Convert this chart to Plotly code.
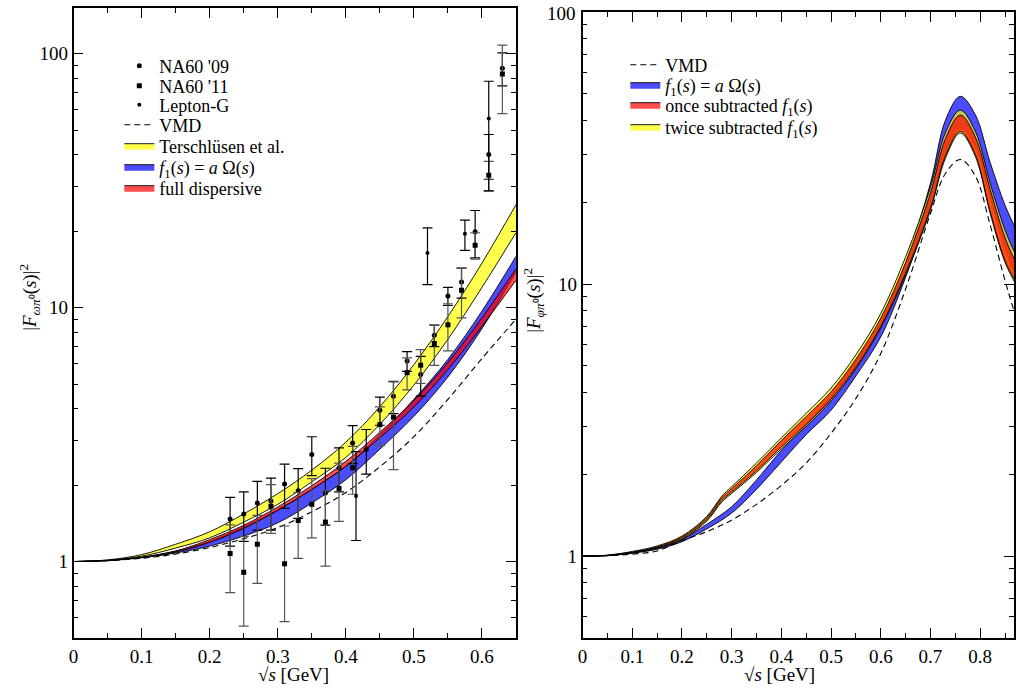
import numpy as np
import plotly.graph_objects as go

# ---------------- data ----------------
# left panel: omega -> pi0 transition form factor
s_left = [0, 0.05, 0.1, 0.15, 0.2, 0.25, 0.3, 0.35, 0.4, 0.45, 0.5, 0.55, 0.6, 0.65]
vmd_left = [1, 1.008, 1.03, 1.07, 1.135, 1.23, 1.36, 1.57, 1.87, 2.36, 3.1, 4.35, 6.3, 9.0]
tersch_hi = [1, 1.015, 1.065, 1.17, 1.31, 1.54, 1.85, 2.29, 2.95, 4.07, 5.96, 9.22, 14.96, 25.4]
tersch_lo = [1, 1.012, 1.05, 1.13, 1.24, 1.43, 1.68, 2.06, 2.57, 3.47, 4.95, 7.5, 12.0, 19.7]
omega_hi_l = [1, 1.01, 1.04, 1.10, 1.20, 1.37, 1.60, 1.93, 2.37, 3.16, 4.35, 6.25, 9.68, 15.9]
omega_lo_l = [1, 1.008, 1.035, 1.08, 1.15, 1.26, 1.42, 1.70, 2.10, 2.77, 3.73, 5.33, 8.26, 13.8]
full_hi = [1, 1.01, 1.04, 1.10, 1.22, 1.39, 1.64, 1.99, 2.48, 3.23, 4.31, 6.08, 9.1, 14.2]
full_lo = [1, 1.009, 1.037, 1.09, 1.19, 1.35, 1.59, 1.92, 2.37, 3.07, 4.06, 5.7, 8.43, 12.8]

s_na09 = [0.23, 0.25, 0.27, 0.29, 0.31, 0.33, 0.35, 0.37, 0.39, 0.41, 0.43, 0.45, 0.47,
          0.49, 0.51, 0.53, 0.55, 0.57, 0.59, 0.61, 0.63]
v_na09 = [1.47, 1.54, 1.70, 1.73, 2.02, 1.90, 2.64, 1.86, 2.34, 2.93, 2.76, 3.94, 4.47,
          6.16, 5.45, 7.77, 11.1, 12.6, 19.9, 40.0, 87.6]
e_na09 = [0.32, 0.34, 0.37, 0.40, 0.40, 0.42, 0.46, 0.47, 0.46, 0.50, 0.55, 0.50, 0.65,
          0.55, 0.97, 0.75, 0.90, 1.7, 4.2, 8.0, 13.0]

s_na11 = [0.23, 0.25, 0.27, 0.29, 0.31, 0.33, 0.35, 0.37, 0.39, 0.41, 0.45, 0.47, 0.49,
          0.51, 0.53, 0.55, 0.57, 0.59, 0.61, 0.63]
v_na11 = [1.075, 0.907, 1.17, 1.65, 0.98, 1.45, 1.68, 1.43, 1.94, 2.34, 3.46, 3.70, 5.54,
          5.93, 7.22, 8.55, 11.7, 17.6, 33.2, 83.0]
e_na11 = [0.32, 0.35, 0.35, 0.36, 0.40, 0.42, 0.44, 0.47, 0.50, 0.50, 0.60, 1.40, 0.80,
          0.90, 1.30, 1.80, 2.60, 2.10, 4.4, 25.0]

s_lep = [0.415, 0.52, 0.575, 0.61]
v_lep = [1.81, 16.4, 19.5, 55.5]
ep_lep = [0.9, 4.2, 2.6, 22.3]
em_lep = [0.6, 4.1, 2.7, 26.7]

# right panel: phi -> pi0 transition form factor
s_right = [0, 0.05, 0.1, 0.15, 0.2, 0.25, 0.28, 0.3, 0.35, 0.4, 0.45, 0.5, 0.55, 0.6,
           0.65, 0.7, 0.73, 0.76, 0.79, 0.82, 0.85, 0.87, 0.89]
vmd_right = [1, 1.004, 1.017, 1.045, 1.14, 1.23, 1.30, 1.356, 1.55, 1.82, 2.2, 2.83, 3.8,
             5.56, 9.6, 18.2, 25.5, 28.7, 25.0, 16.5, 10.3, 7.8, 6.3]
twice_hi = [1, 1.008, 1.04, 1.09, 1.185, 1.40, 1.66, 1.80, 2.20, 2.72, 3.35, 4.15, 5.5,
            7.8, 12.6, 22.7, 36.0, 43.6, 36.5, 23.5, 15.8, 13.0, 11.2]
twice_lo = [1, 1.004, 1.028, 1.07, 1.15, 1.345, 1.58, 1.70, 2.03, 2.48, 3.0, 3.72, 4.88,
            6.9, 10.8, 18.7, 29.0, 35.9, 29.5, 18.2, 12.0, 10.1, 8.6]
once_hi = [1, 1.007, 1.036, 1.083, 1.175, 1.385, 1.64, 1.77, 2.15, 2.66, 3.26, 4.02, 5.3,
           7.5, 12.0, 21.6, 34.2, 41.8, 34.8, 22.3, 14.8, 12.2, 10.5]
once_lo = [1, 1.005, 1.03, 1.075, 1.16, 1.36, 1.60, 1.72, 2.06, 2.52, 3.05, 3.78, 4.95,
           7.0, 11.0, 19.0, 29.5, 36.4, 30.0, 18.5, 12.2, 10.3, 8.8]
s_right_omega = [0, 0.05, 0.1, 0.15, 0.2, 0.25, 0.3, 0.35, 0.4, 0.45, 0.5, 0.55, 0.6,
                 0.65, 0.7, 0.73, 0.76, 0.79, 0.82, 0.85, 0.87, 0.89]
omega_hi_r = [1, 1.006, 1.03, 1.07, 1.15, 1.31, 1.52, 1.905, 2.45, 3.05, 3.90, 5.20,
              7.2, 12.0, 23.5, 40.0, 49.0, 42.0, 28.0, 19.5, 16.2, 13.8]
omega_lo_r = [1, 1.005, 1.025, 1.06, 1.13, 1.26, 1.44, 1.76, 2.22, 2.80, 3.44, 4.6,
              6.4, 10.6, 19.5, 30.0, 37.5, 32.0, 21.0, 13.5, 11.0, 9.4]

# ---------------- styling ----------------
W, H = 1016, 690
FONT = "Liberation Serif"
YELLOW = "rgba(255,255,0,0.7)"
BLUE = "rgba(0,0,255,0.7)"
RED = "rgba(255,0,0,0.7)"
RIGHT_EDGE = 1015  # keep every mark inside the page


def px(X):  # page pixel -> paper fraction
    return X / W


def py(Y):
    return 1 - Y / H


fig = go.Figure()


def band(x, lo, hi, color, name, xa, ya, legend):
    fig.add_trace(go.Scatter(x=x, y=lo, mode="lines", xaxis=xa, yaxis=ya,
                             line=dict(color="black", width=0.9, shape="spline"),
                             showlegend=False, hoverinfo="skip"))
    fig.add_trace(go.Scatter(x=x, y=hi, mode="lines", xaxis=xa, yaxis=ya,
                             fill="tonexty", fillcolor=color,
                             line=dict(color="black", width=0.9, shape="spline"),
                             name=name, legend=legend))


F1 = "<i>f</i><sub>1</sub>(<i>s</i>)"

# left panel
band(s_left, tersch_lo, tersch_hi, YELLOW, "Terschlüsen et al.", "x", "y", "legend5")
band(s_left, omega_lo_l, omega_hi_l, BLUE, F1 + " = <i>a</i> Ω(<i>s</i>)", "x", "y", "legend6")
band(s_left, full_lo, full_hi, RED, "full dispersive", "x", "y", "legend7")
fig.add_trace(go.Scatter(x=s_left, y=vmd_left, mode="lines", xaxis="x", yaxis="y",
                         line=dict(color="black", width=1.1, dash="6px,4px", shape="spline"),
                         name="VMD", legend="legend4"))

fig.add_trace(go.Scatter(x=s_na09, y=v_na09, mode="markers", xaxis="x", yaxis="y",
                         marker=dict(symbol="circle", size=5, color="black"),
                         error_y=dict(type="data", array=e_na09, color="black",
                                      thickness=1.2, width=5),
                         name="NA60 '09", legend="legend"))
fig.add_trace(go.Scatter(x=s_na11, y=v_na11, mode="markers", xaxis="x", yaxis="y",
                         marker=dict(symbol="square", size=5, color="black"),
                         error_y=dict(type="data", array=e_na11, color="#555555",
                                      thickness=1.2, width=5),
                         name="NA60 '11", legend="legend2"))
fig.add_trace(go.Scatter(x=s_lep, y=v_lep, mode="markers", xaxis="x", yaxis="y",
                         marker=dict(symbol="circle", size=4, color="black"),
                         error_y=dict(type="data", array=ep_lep, arrayminus=em_lep,
                                      symmetric=False, color="black",
                                      thickness=1.2, width=5),
                         name="Lepton-G", legend="legend3"))

# right panel
band(s_right_omega, omega_lo_r, omega_hi_r, BLUE, F1 + " = <i>a</i> Ω(<i>s</i>)",
     "x2", "y2", "legend9")
band(s_right, twice_lo, twice_hi, YELLOW, "twice subtracted " + F1, "x2", "y2", "legend11")
band(s_right, once_lo, once_hi, RED, "once subtracted " + F1, "x2", "y2", "legend10")
fig.add_trace(go.Scatter(x=s_right, y=vmd_right, mode="lines", xaxis="x2", yaxis="y2",
                         line=dict(color="black", width=1.1, dash="6px,4px", shape="spline"),
                         name="VMD", legend="legend8"))

# ---------------- axes ----------------
common = dict(showline=True, linecolor="black", linewidth=1.6, mirror="ticks",
              ticks="inside", ticklen=10, tickwidth=1.2, tickcolor="black",
              showgrid=False, zeroline=False,
              tickfont=dict(family=FONT, size=19, color="black"))

xminor = dict(tickmode="linear", tick0=0, dtick=0.05, ticks="inside", ticklen=5,
              tickwidth=1, tickcolor="black")
yminor_vals = [0.5, 0.6, 0.7, 0.8, 0.9] + list(range(2, 10)) + \
    [20, 30, 40, 50, 60, 70, 80, 90]
yminor = dict(tickmode="array", tickvals=yminor_vals, ticks="inside", ticklen=5,
              tickwidth=1, tickcolor="black")

layout = dict(
    width=W, height=H, margin=dict(l=0, r=0, t=0, b=0),
    paper_bgcolor="white", plot_bgcolor="white",
    font=dict(family=FONT, color="black"),
    showlegend=True,
    xaxis=dict(domain=[px(69), px(514)], range=[0, 0.65], anchor="y",
               tickmode="linear", tick0=0, dtick=0.1, minor=xminor, **common),
    yaxis=dict(domain=[py(638), py(8)], type="log", anchor="x",
               range=[np.log10(0.5), np.log10(0.5) + 630 / 254],
               tickmode="array", tickvals=[1, 10, 100], ticktext=["1", "10", "100"],
               minor=yminor, **common),
    xaxis2=dict(domain=[px(581), px(RIGHT_EDGE)], range=[0, (RIGHT_EDGE - 581) / 500],
                anchor="y2", tickmode="linear", tick0=0, dtick=0.1, minor=xminor,
                **common),
    # the top label "100" sits at the page edge, so it is written as an annotation below
    yaxis2=dict(domain=[py(638), py(12)], type="log", anchor="x2",
                range=[np.log10(0.5), 2.0003],
                tickmode="array", tickvals=[1, 10, 100], ticktext=["1", "10", ""],
                minor=yminor, **common),
)

# one single-entry legend per row, placed where the reference rows are
left_rows = [66, 86, 105, 125, 146, 167, 188]
right_rows = [65, 85, 105, 127]
names = ["legend"] + ["legend%d" % i for i in range(2, 12)]
rows = [(115, y) for y in left_rows] + [(624, y) for y in right_rows]
for nm, (X, Y) in zip(names, rows):
    layout[nm] = dict(x=px(X), y=py(Y), xanchor="left", yanchor="middle",
                      bgcolor="rgba(0,0,0,0)", borderwidth=0, itemwidth=30,
                      traceorder="normal",
                      font=dict(family=FONT, size=18, color="black"))

fig.update_layout(**layout)

title_font = dict(family=FONT, size=19, color="black")
ann = dict(xref="paper", yref="paper", showarrow=False, font=title_font,
           xanchor="center", yanchor="middle")
fig.add_annotation(x=px(290), y=py(674), text="√<i>s</i> [GeV]", **ann)
fig.add_annotation(x=px(779), y=py(674), text="√<i>s</i> [GeV]", **ann)
fig.add_annotation(x=px(25), y=py(297), textangle=-90,
                   text="|<i>F</i><sub><i>ωπ</i>⁰</sub>(<i>s</i>)|<sup>2</sup>", **ann)
fig.add_annotation(x=px(532), y=py(300), textangle=-90,
                   text="|<i>F</i><sub><i>φπ</i>⁰</sub>(<i>s</i>)|<sup>2</sup>", **ann)
fig.add_annotation(x=px(576), y=py(1), xref="paper", yref="paper", showarrow=False,
                   text="100", font=title_font, xanchor="right", yanchor="top")

# remove the default page margin so the figure sits at the window's top-left corner
fig.write_html("out.html", config={"displayModeBar": False},
               post_script="document.body.style.margin='0';"
                           "document.body.style.overflow='hidden';")
